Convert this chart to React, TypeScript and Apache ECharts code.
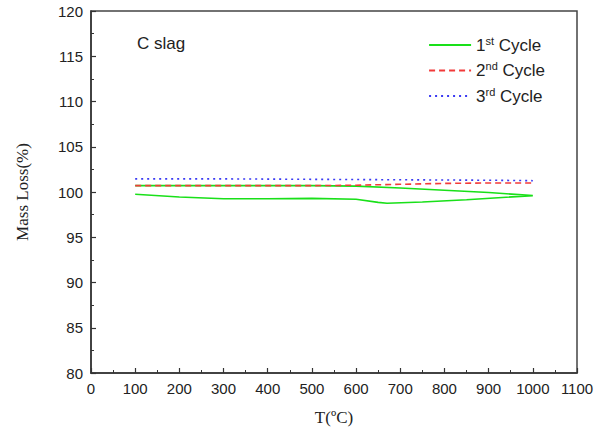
import React, { useEffect, useRef } from "react";
import * as echarts from "echarts";

const cycle1T = [100, 200, 300, 400, 500, 600, 650, 670, 750, 850, 1000, 900, 800, 700, 600, 500, 400, 300, 200, 100];
const cycle1M = [99.75, 99.45, 99.25, 99.25, 99.3, 99.2, 98.85, 98.75, 98.9, 99.15, 99.6, 99.95, 100.2, 100.45, 100.65, 100.7, 100.7, 100.7, 100.7, 100.7];
const cycle2T = [100, 300, 500, 600, 700, 800, 900, 1000];
const cycle2M = [100.7, 100.7, 100.7, 100.75, 100.85, 100.95, 101.0, 101.0];
const cycle3T = [100, 300, 500, 700, 900, 1000];
const cycle3M = [101.45, 101.45, 101.4, 101.35, 101.3, 101.25];
const seriesNames = ["1st Cycle", "2nd Cycle", "3rd Cycle"];
const supMap: Record<string, [string, string]> = {
  "1st Cycle": ["1", "st"],
  "2nd Cycle": ["2", "nd"],
  "3rd Cycle": ["3", "rd"],
};

const pairs = (xs: number[], ys: number[]) => xs.map((x, i) => [x, ys[i]]);

export default function App() {
  const ref = useRef<HTMLDivElement>(null);
  useEffect(() => {
    const chart = echarts.init(ref.current!, null, { renderer: "svg" });
    const axisCommon = {
      axisLine: { show: true, lineStyle: { color: "#333", width: 1.5 } },
      axisTick: { show: true, inside: true, length: 5, lineStyle: { color: "#333", width: 1.2 } },
      minorTick: { show: true, splitNumber: 2, length: 3, lineStyle: { color: "#333", width: 1 } },
      splitLine: { show: false },
      axisLabel: {
        color: "#222",
        fontSize: 15,
        fontFamily: "Liberation Sans, Arial, sans-serif",
        margin: 8,
        formatter: (v: number) => String(v),
      },
    };
    chart.setOption({
      animation: false,
      backgroundColor: "#fff",
      grid: { left: 91, right: 29, top: 11, bottom: 59, show: true, borderColor: "#444", borderWidth: 1.5 },
      xAxis: {
        type: "value",
        min: 0,
        max: 1100,
        interval: 100,
        name: "T(ºC)",
        nameLocation: "middle",
        nameGap: 36,
        nameTextStyle: { fontFamily: "Liberation Serif, Times New Roman, serif", fontSize: 17, color: "#222" },
        ...axisCommon,
      },
      yAxis: {
        type: "value",
        min: 80,
        max: 120,
        interval: 5,
        name: "Mass Loss(%)",
        nameLocation: "middle",
        nameGap: 60,
        nameTextStyle: { fontFamily: "Liberation Serif, Times New Roman, serif", fontSize: 17, color: "#222" },
        ...axisCommon,
      },
      legend: {
        orient: "vertical",
        right: 56,
        top: 30,
        itemWidth: 42,
        itemHeight: 10,
        itemGap: 7,
        data: seriesNames,
        itemStyle: { opacity: 0 },
        formatter: (name: string) => {
          const p = supMap[name];
          return `{a|${p[0]}}{s|${p[1]}}{a| Cycle}`;
        },
        textStyle: {
          rich: {
            a: { fontSize: 17, color: "#222", fontFamily: "Liberation Sans, Arial, sans-serif" },
            s: { fontSize: 11, color: "#222", fontFamily: "Liberation Sans, Arial, sans-serif", padding: [0, 0, 9, 0] },
          },
        },
      },
      graphic: [
        {
          type: "text",
          left: 137,
          top: 35,
          style: { text: "C slag", fontSize: 17, fill: "#222", fontFamily: "Liberation Sans, Arial, sans-serif" },
        },
      ],
      series: [
        {
          name: seriesNames[0],
          type: "line",
          symbol: "none",
          data: pairs(cycle1T, cycle1M),
          lineStyle: { color: "#19e019", width: 1.6, type: "solid" },
          itemStyle: { color: "#19e019" },
          z: 1,
        },
        {
          name: seriesNames[1],
          type: "line",
          symbol: "none",
          data: pairs(cycle2T, cycle2M),
          lineStyle: { color: "#f23a3a", width: 1.6, type: [6, 4] },
          itemStyle: { color: "#f23a3a" },
          z: 2,
        },
        {
          name: seriesNames[2],
          type: "line",
          symbol: "none",
          data: pairs(cycle3T, cycle3M),
          lineStyle: { color: "#3a3af2", width: 1.6, type: [2, 4] },
          itemStyle: { color: "#3a3af2" },
          z: 3,
        },
      ],
    });
    return () => chart.dispose();
  }, []);
  return <div ref={ref} style={{ width: 606, height: 432, position: "absolute", left: 0, top: 0 }} />;
}
